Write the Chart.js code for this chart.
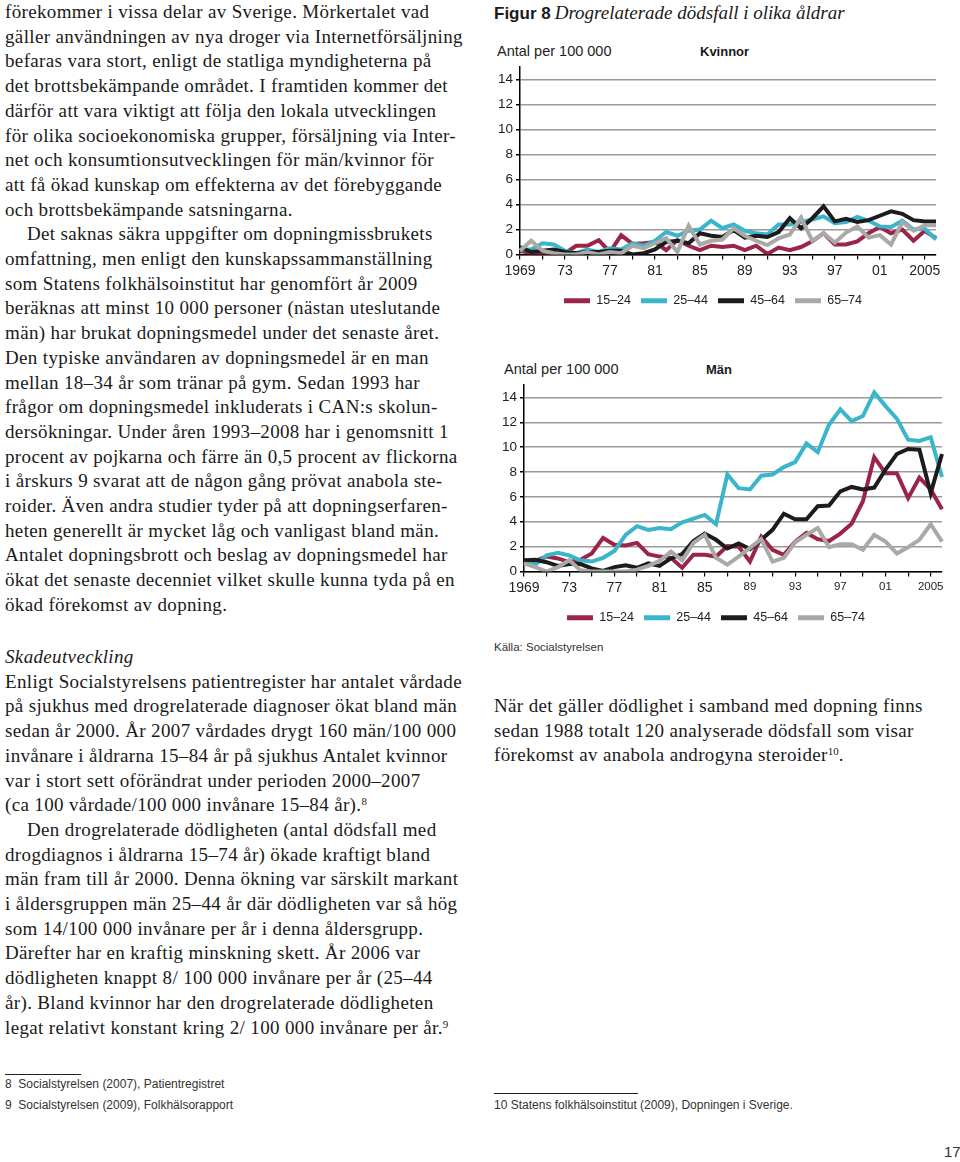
<!DOCTYPE html>
<html lang="sv">
<head>
<meta charset="utf-8">
<title>Figur 8 Drogrelaterade dödsfall i olika åldrar</title>
<script src="https://cdn.jsdelivr.net/npm/chart.js@4.4.1/dist/chart.umd.min.js"></script>
<style>
  html, body { margin: 0; padding: 0; background: #fff; }
  body { width: 960px; height: 1162px; position: relative; overflow: hidden; color: #1a1a1a; }
  .serif { font-family: "Liberation Serif", "DejaVu Serif", serif; font-size: 19px; letter-spacing: 0.35px; }
  .col { position: absolute; line-height: 24.7px; }
  .col div { white-space: nowrap; }
  .ind { padding-left: 22px; }
  .sans { font-family: "Liberation Sans", Arial, sans-serif; }
  .abs { position: absolute; white-space: nowrap; }
  sup { font-size: 11px; line-height: 0; vertical-align: 6px; letter-spacing: 0; }
  .chartBox { position: absolute; left: 490px; width: 460px; height: 280px; }
  .note { font-family: "Liberation Sans Narrow", "Liberation Sans", sans-serif; font-size: 12px; color: #333; }
  .rule { position: absolute; height: 1px; background: #222; }
</style>
</head>
<body>

<!-- Vänster spalt -->
<div class="col serif" style="left:5px; top:0px;">
  <div>förekommer i vissa delar av Sverige. Mörkertalet vad</div>
  <div>gäller användningen av nya droger via Internetförsäljning</div>
  <div>befaras vara stort, enligt de statliga myndigheterna på</div>
  <div>det brottsbekämpande området. I framtiden kommer det</div>
  <div>därför att vara viktigt att följa den lokala utvecklingen</div>
  <div>för olika socioekonomiska grupper, försäljning via Inter-</div>
  <div>net och konsumtionsutvecklingen för män/kvinnor för</div>
  <div>att få ökad kunskap om effekterna av det förebyggande</div>
  <div>och brottsbekämpande satsningarna.</div>
  <div class="ind">Det saknas säkra uppgifter om dopningmissbrukets</div>
  <div>omfattning, men enligt den kunskapssammanställning</div>
  <div>som Statens folkhälsoinstitut har genomfört år 2009</div>
  <div>beräknas att minst 10 000 personer (nästan uteslutande</div>
  <div>män) har brukat dopningsmedel under det senaste året.</div>
  <div>Den typiske användaren av dopningsmedel är en man</div>
  <div>mellan 18–34 år som tränar på gym. Sedan 1993 har</div>
  <div>frågor om dopningsmedel inkluderats i CAN:s skolun-</div>
  <div>dersökningar. Under åren 1993–2008 har i genomsnitt 1</div>
  <div>procent av pojkarna och färre än 0,5 procent av flickorna</div>
  <div>i årskurs 9 svarat att de någon gång prövat anabola ste-</div>
  <div>roider. Även andra studier tyder på att dopningserfaren-</div>
  <div>heten generellt är mycket låg och vanligast bland män.</div>
  <div>Antalet dopningsbrott och beslag av dopningsmedel har</div>
  <div>ökat det senaste decenniet vilket skulle kunna tyda på en</div>
  <div>ökad förekomst av dopning.</div>
</div>

<div class="col serif" style="left:5px; top:645px;">
  <div><i>Skadeutveckling</i></div>
  <div>Enligt Socialstyrelsens patientregister har antalet vårdade</div>
  <div>på sjukhus med drogrelaterade diagnoser ökat bland män</div>
  <div>sedan år 2000. År 2007 vårdades drygt 160 män/100 000</div>
  <div>invånare i åldrarna 15–84 år på sjukhus Antalet kvinnor</div>
  <div>var i stort sett oförändrat under perioden 2000–2007</div>
  <div>(ca 100 vårdade/100 000 invånare 15–84 år).<sup>8</sup></div>
  <div class="ind">Den drogrelaterade dödligheten (antal dödsfall med</div>
  <div>drogdiagnos i åldrarna 15–74 år) ökade kraftigt bland</div>
  <div>män fram till år 2000. Denna ökning var särskilt markant</div>
  <div>i åldersgruppen män 25–44 år där dödligheten var så hög</div>
  <div>som 14/100 000 invånare per år i denna åldersgrupp.</div>
  <div>Därefter har en kraftig minskning skett. År 2006 var</div>
  <div>dödligheten knappt 8/ 100 000 invånare per år (25–44</div>
  <div>år). Bland kvinnor har den drogrelaterade dödligheten</div>
  <div>legat relativt konstant kring 2/ 100 000 invånare per år.<sup>9</sup></div>
</div>

<!-- Höger spalt: figur -->
<div class="abs" style="left:494px; top:0px; line-height:26px;">
  <span class="sans" style="font-weight:bold; font-size:17px;">Figur 8</span>
  <span class="serif" style="font-style:italic; font-size:19px; letter-spacing:0;">Drogrelaterade dödsfall i olika åldrar</span>
</div>

<div class="abs sans" style="left:497px; top:43px; font-size:14.5px; color:#222;">Antal per 100 000</div>
<div class="abs sans" style="left:700px; top:44px; font-size:13px; font-weight:bold;">Kvinnor</div>
<div class="chartBox" style="top:40px;"><canvas id="kvinnorChart"></canvas></div>

<div class="abs sans" style="left:504px; top:361px; font-size:14.5px; color:#222;">Antal per 100 000</div>
<div class="abs sans" style="left:706px; top:362px; font-size:13px; font-weight:bold;">Män</div>
<div class="chartBox" style="top:355px;"><canvas id="manChart"></canvas></div>

<div class="abs sans" style="left:494px; top:641px; font-size:11.5px; color:#333;">Källa: Socialstyrelsen</div>

<div class="col serif" style="left:494px; top:694px;">
  <div>När det gäller dödlighet i samband med dopning finns</div>
  <div>sedan 1988 totalt 120 analyserade dödsfall som visar</div>
  <div>förekomst av anabola androgyna steroider<sup>10</sup>.</div>
</div>

<!-- Fotnoter -->
<div class="rule" style="left:5px; top:1074px; width:76px;"></div>
<div class="abs note" style="left:5px; top:1077px;">8&nbsp;&nbsp;Socialstyrelsen (2007), Patientregistret</div>
<div class="abs note" style="left:5px; top:1098px;">9&nbsp;&nbsp;Socialstyrelsen (2009), Folkhälsorapport</div>
<div class="rule" style="left:494px; top:1093px; width:144px;"></div>
<div class="abs note" style="left:494px; top:1098px;">10 Statens folkhälsoinstitut (2009), Dopningen i Sverige.</div>
<div class="abs note" style="left:944px; top:1143px; font-size:15px;">17</div>

<script>
// Kategorier (år) och etiketter på x-axeln
const years = [1969, 1970, 1971, 1972, 1973, 1974, 1975, 1976, 1977, 1978,
  1979, 1980, 1981, 1982, 1983, 1984, 1985, 1986, 1987, 1988,
  1989, 1990, 1991, 1992, 1993, 1994, 1995, 1996, 1997, 1998,
  1999, 2000, 2001, 2002, 2003, 2004, 2005, 2006];
const yearLabels = ["1969", "73", "77", "81", "85", "89", "93", "97", "01", "2005"];
const yTicks = [0, 2, 4, 6, 8, 10, 12, 14];
const groups = ["15–24", "25–44", "45–64", "65–74"];
const colors = ["#9c2448", "#3ab5cc", "#1c1c1c", "#a9a9a5"];

// Kvinnor, antal per 100 000
const kvinnor1524 = [0.3, 0.1, 0.1, 0.1, 0.1, 0.7, 0.7, 1.15, 0.2, 1.55, 0.85, 0.9, 1.0, 0.35, 1.15, 0.7, 0.35, 0.7, 0.6, 0.7,
  0.35, 0.7, 0.05, 0.55, 0.35, 0.6, 1.05, 1.7, 0.8, 0.8, 1.05, 1.7, 2.2, 1.7, 2.0, 1.1, 1.9, 1.3];
const kvinnor2544 = [0.4, 0.4, 0.9, 0.8, 0.3, 0.1, 0.4, 0.2, 0.5, 0.4, 0.9, 0.7, 1.1, 1.8, 1.5, 1.9, 2.0, 2.7, 2.1, 2.4,
  1.9, 1.7, 1.6, 2.4, 2.4, 2.6, 2.8, 3.05, 2.5, 2.6, 3.0, 2.7, 2.25, 2.2, 2.7, 2.0, 2.05, 1.2];
const kvinnor4564 = [0.6, 0.2, 0.3, 0.4, 0.2, 0.1, 0.2, 0.2, 0.3, 0.3, 0.0, 0.1, 0.4, 1.0, 1.1, 0.9, 1.7, 1.5, 1.4, 1.95,
  1.35, 1.5, 1.4, 1.8, 2.9, 2.1, 2.9, 3.85, 2.65, 2.85, 2.6, 2.75, 3.1, 3.45, 3.25, 2.75, 2.65, 2.65];
const kvinnor6574 = [0.3, 1.1, 0.3, 0.1, 0.0, 0.0, 0.2, 0.0, 0.2, 0.1, 0.7, 0.5, 0.9, 1.3, 0.2, 2.3, 0.8, 1.1, 1.2, 2.1,
  1.5, 1.1, 0.75, 1.3, 1.6, 2.95, 1.1, 1.7, 0.95, 1.75, 2.25, 1.35, 1.55, 0.8, 2.6, 1.9, 2.35, 2.35];

// Män, antal per 100 000
const man1524 = [0.8, 0.85, 1.2, 1.05, 0.75, 0.95, 1.45, 2.7, 2.15, 2.1, 2.3, 1.4, 1.2, 1.1, 0.3, 1.35, 1.35, 1.2, 2.05, 2.0,
  0.8, 2.8, 1.75, 1.35, 2.4, 3.1, 2.6, 2.45, 3.05, 3.85, 5.65, 9.2, 7.9, 7.9, 5.9, 7.55, 6.6, 5.0];
const man2544 = [0.75, 0.55, 1.3, 1.5, 1.3, 0.9, 0.8, 1.1, 1.65, 2.95, 3.65, 3.35, 3.5, 3.4, 3.95, 4.25, 4.55, 3.8, 7.8, 6.7,
  6.6, 7.7, 7.8, 8.4, 8.8, 10.3, 9.6, 11.8, 13.05, 12.1, 12.5, 14.4, 13.3, 12.3, 10.6, 10.5, 10.8, 7.6];
const man4564 = [0.9, 0.95, 0.75, 0.45, 0.6, 0.6, 0.25, 0.05, 0.35, 0.5, 0.3, 0.65, 0.45, 1.05, 1.4, 2.45, 3.05, 2.55, 1.85, 2.25,
  1.8, 2.55, 3.35, 4.65, 4.2, 4.2, 5.25, 5.3, 6.45, 6.8, 6.6, 6.75, 8.2, 9.45, 9.85, 9.8, 6.3, 9.45];
const man6574 = [0.65, 0.35, 0.0, 0.35, 0.9, 0.1, 0.0, 0.0, 0.0, 0.0, 0.15, 0.45, 0.85, 1.6, 0.9, 2.3, 2.95, 1.1, 0.55, 1.2,
  1.9, 2.6, 0.8, 1.1, 2.35, 2.95, 3.5, 1.95, 2.2, 2.2, 1.75, 2.95, 2.4, 1.45, 1.95, 2.55, 3.8, 2.4];

const fontSans = "'Liberation Sans', Arial, sans-serif";

function makeChart(id, series, opt) {
  const ctx = document.getElementById(id).getContext("2d");
  return new Chart(ctx, {
    type: "line",
    data: {
      labels: years,
      datasets: series.map((s, i) => ({
        label: groups[i],
        data: s,
        borderColor: colors[i],
        backgroundColor: colors[i],
        borderWidth: 4,
        pointRadius: 0,
        tension: 0,
        order: 3 - i   // grå överst
      }))
    },
    options: {
      responsive: true,
      maintainAspectRatio: false,
      animation: false,
      layout: { padding: { top: opt.padTop, right: opt.padRight, left: 0, bottom: opt.padBottom } },
      plugins: {
        tooltip: { enabled: false },
        legend: {
          position: "bottom",
          labels: {
            boxWidth: 26,
            boxHeight: 5,
            padding: 10,
            color: "#222",
            font: { family: fontSans, size: 12.5 },
            sort: (a, b) => a.datasetIndex - b.datasetIndex,
            generateLabels(chart) {
              const items = Chart.defaults.plugins.legend.labels.generateLabels(chart);
              items.forEach(it => { it.lineWidth = 0; it.fillStyle = colors[it.datasetIndex]; });
              return items;
            }
          }
        }
      },
      scales: {
        x: {
          type: "category",
          offset: false,
          afterFit: s => { s.height = opt.xHeight; },
          border: { display: true, color: "#000", width: 1.5 },
          grid: { display: true, drawOnChartArea: false, drawTicks: true, tickLength: 5, color: "#000", lineWidth: 1.2 },
          ticks: {
            autoSkip: false,
            maxRotation: 0,
            padding: 3,
            color: "#222",
            font: c => ({ family: fontSans, size: opt.smallLater && c.index > 8 ? 11.5 : 14 }),
            callback: (v, i) => {
              if (i % 2) return null;
              return i % 4 === 0 ? yearLabels[i / 4] : "";
            }
          }
        },
        y: {
          min: 0,
          max: 15,
          afterFit: s => { s.width = opt.yWidth; },
          afterBuildTicks: s => { s.ticks = yTicks.map(v => ({ value: v })); },
          border: { display: true, color: "#000", width: 1.5 },
          grid: { color: "#9a9a9a", lineWidth: 1.5, drawTicks: true, tickLength: 4, tickColor: "#000" },
          ticks: {
            padding: 3,
            color: "#222",
            font: { family: fontSans, size: 13.5 }
          }
        }
      }
    }
  });
}

makeChart("kvinnorChart", [kvinnor1524, kvinnor2544, kvinnor4564, kvinnor6574],
  { padTop: 27, padRight: 14, padBottom: 3, yWidth: 30, xHeight: 30, smallLater: false });
makeChart("manChart", [man1524, man2544, man4564, man6574],
  { padTop: 30, padRight: 8, padBottom: 1, yWidth: 34, xHeight: 30, smallLater: true });
</script>
</body>
</html>
